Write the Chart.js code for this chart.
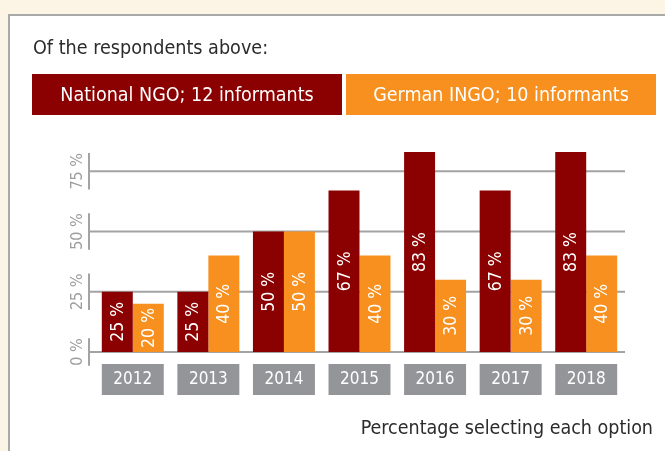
<!DOCTYPE html>
<html><head><meta charset="utf-8">
<script src="https://cdn.jsdelivr.net/npm/chart.js@4"></script>
<style>
html,body{margin:0;padding:0;width:665px;height:451px;overflow:hidden;background:#fcf4e4;}
#panel{position:absolute;left:8px;top:14px;width:700px;height:500px;background:#fff;border-left:2px solid #a9a9a9;border-top:2px solid #a9a9a9;}
.t{position:absolute;font-family:"Liberation Sans Narrow","DejaVu Sans Condensed",sans-serif;white-space:nowrap;}
#title{left:33px;top:35px;font-size:19.6px;line-height:26px;color:#2b2b2b;}
.leg{top:74px;height:41px;width:310px;line-height:41px;text-align:center;color:#fff;font-size:19.5px;}
#leg1{left:32px;background:#8b0000;}
#leg2{left:346px;background:#f7901e;}
#foot{right:12px;top:415px;font-size:19.5px;line-height:26px;color:#2b2b2b;}
#c{position:absolute;left:0;top:0;}
</style></head>
<body>
<div id="panel"></div>
<canvas id="c" width="665" height="451"></canvas>
<div class="t" id="title">Of the respondents above:</div>
<div class="t leg" id="leg1">National NGO; 12 informants</div>
<div class="t leg" id="leg2">German INGO; 10 informants</div>
<div class="t" id="foot">Percentage selecting each option</div>
<script>
const categories = ["2012","2013","2014","2015","2016","2017","2018"];
const nationalNGO = [25,25,50,67,83,67,83];
const germanINGO = [20,40,50,40,30,30,40];
const yTicks = [0,25,50,75];
const yTickLabels = ["0 %","25 %","50 %","75 %"];
const seriesNames = ["National NGO; 12 informants","German INGO; 10 informants"];

const FONT = '"Liberation Sans Narrow","DejaVu Sans Condensed",sans-serif';
const CAT_PCT = 0.82;

const decor = {
  id:'decor',
  beforeDatasetsDraw(chart){
    const ctx = chart.ctx, y = chart.scales.y, area = chart.chartArea;
    ctx.save();
    ctx.strokeStyle = '#a3a3a3';
    ctx.lineWidth = 2;
    ctx.font = '16px ' + FONT;
    yTicks.forEach((v,i)=>{
      const py = y.getPixelForValue(v);
      ctx.beginPath();
      ctx.moveTo(area.left-6, py);
      ctx.lineTo(area.right+1, py);
      ctx.stroke();
      const w = ctx.measureText(yTickLabels[i]).width;
      ctx.beginPath();
      ctx.moveTo(area.left-6, py - w/2);
      ctx.lineTo(area.left-6, py + w/2);
      ctx.stroke();
      ctx.save();
      ctx.translate(area.left-17, py);
      ctx.rotate(-Math.PI/2);
      ctx.fillStyle = '#9d9d9d';
      ctx.textAlign = 'center';
      ctx.textBaseline = 'middle';
      ctx.fillText(yTickLabels[i], 0, 0);
      ctx.restore();
    });
    ctx.restore();
  },
  afterDatasetsDraw(chart){
    const ctx = chart.ctx;
    ctx.save();
    ctx.font = '17.5px ' + FONT;
    ctx.fillStyle = '#fff';
    ctx.textAlign = 'center';
    ctx.textBaseline = 'middle';
    chart.data.datasets.forEach((ds,di)=>{
      chart.getDatasetMeta(di).data.forEach((bar,i)=>{
        const cy = (bar.y + bar.base)/2;
        ctx.save();
        ctx.translate(bar.x, cy);
        ctx.rotate(-Math.PI/2);
        ctx.fillText(ds.data[i] + ' %', 0, 1);
        ctx.restore();
      });
    });
    // category label boxes
    const x = chart.scales.x, area = chart.chartArea;
    const catW = (area.right - area.left)/categories.length * CAT_PCT;
    ctx.font = '17px ' + FONT;
    categories.forEach((c,i)=>{
      const px = x.getPixelForValue(i);
      ctx.fillStyle = '#939598';
      ctx.fillRect(px - catW/2, area.bottom + 12, catW, 31);
      ctx.fillStyle = '#fff';
      ctx.fillText(c, px, area.bottom + 28);
    });
    ctx.restore();
  }
};

new Chart(document.getElementById('c'), {
  type:'bar',
  data:{
    labels: categories,
    datasets:[
      {label: seriesNames[0], data: nationalNGO, backgroundColor:'#8b0000', categoryPercentage:CAT_PCT, barPercentage:1},
      {label: seriesNames[1], data: germanINGO, backgroundColor:'#f7901e', categoryPercentage:CAT_PCT, barPercentage:1}
    ]
  },
  options:{
    responsive:false,
    animation:false,
    devicePixelRatio:1,
    layout:{padding:{left:95,right:41,top:111,bottom:99}},
    plugins:{legend:{display:false},tooltip:{enabled:false}},
    scales:{
      x:{display:false},
      y:{display:false,min:0,max:100}
    }
  },
  plugins:[decor]
});
</script>
</body></html>
